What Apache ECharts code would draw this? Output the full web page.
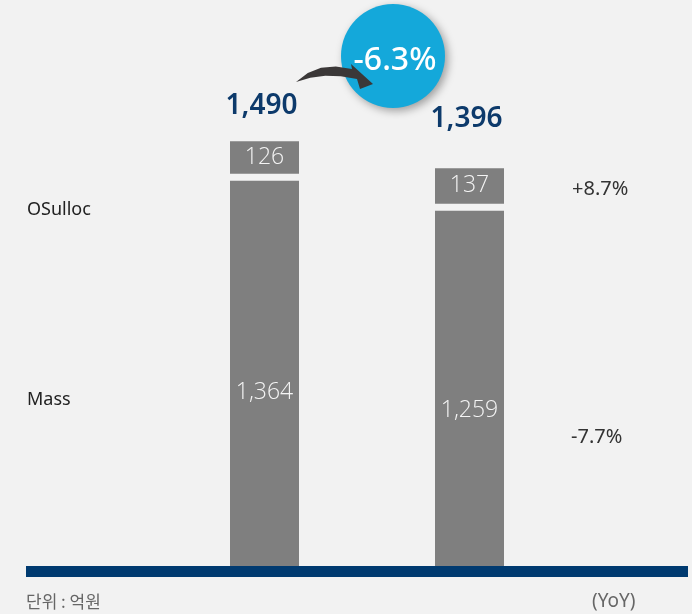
<!DOCTYPE html>
<html>
<head>
<meta charset="utf-8">
<style>
html,body{margin:0;padding:0;background:#f2f2f2;}
#c{width:692px;height:614px;}
</style>
<script src="https://cdn.jsdelivr.net/npm/echarts@6/dist/echarts.min.js"></script>
</head>
<body>
<div id="c"></div>
<script>
// ---- data ----
const categories = ['2023', '2024'];
const seriesNames = ['Mass', 'OSulloc'];
const massValues = [1364, 1259];
const osullocValues = [126, 137];
const totalValues = [1490, 1396];
const yoyLabels = ['+8.7%', '-7.7%'];   // OSulloc, Mass
const changeLabel = '-6.3%';
const unitLabel = '단위 : 억원';
const yoyTitle = '(YoY)';

// ---- layout constants ----
const BAR_W = 69;
const GAP = 3.5;
const totalOffsets = [-35, -49];
const massLabelOffsets = [19, 22];
const fmt = v => v.toLocaleString('en-US');

const chart = echarts.init(document.getElementById('c'));

function segRender(isTop) {
  return function (params, api) {
    const idx = api.value(0);
    const base = api.value(1);
    const top = api.value(2);
    const p0 = api.coord([idx, base]);
    const p1 = api.coord([idx, top]);
    let y0 = p0[1], y1 = p1[1];
    if (isTop) { y0 -= GAP; } else { y1 += GAP; }
    const x = p0[0] - BAR_W / 2;
    const val = top - base;
    const cy = isTop ? (y0 + y1) / 2 : (y0 + y1) / 2 + massLabelOffsets[params.dataIndex];
    return {
      type: 'group',
      children: [
        { type: 'rect', shape: { x: x, y: y1, width: BAR_W, height: y0 - y1 },
          style: { fill: '#7f7f7f' } },
        { type: 'text', x: p0[0], y: cy,
          style: { text: fmt(val), fill: '#f4f4f4', font: '300 23px "Open Sans", "Noto Sans", sans-serif',
                   align: 'center', verticalAlign: 'middle' } }
      ]
    };
  };
}

const massData = categories.map((c, i) => [i, 0, massValues[i]]);
const osData = categories.map((c, i) => [i, massValues[i], massValues[i] + osullocValues[i]]);
const totData = categories.map((c, i) => [i, totalValues[i]]);

chart.setOption({
  backgroundColor: '#f2f2f2',
  animation: false,
  grid: { left: 162, top: 0, width: 410, height: 566 },
  xAxis: { type: 'category', data: categories, show: false },
  yAxis: { type: 'value', min: 0, max: 1986, show: false },
  series: [
    { name: seriesNames[0], type: 'custom', renderItem: segRender(false), data: massData,
      encode: { x: 0, y: [1, 2] } },
    { name: seriesNames[1], type: 'custom', renderItem: segRender(true), data: osData,
      encode: { x: 0, y: [1, 2] } },
    { name: 'Total', type: 'custom', data: totData, encode: { x: 0, y: 1 },
      renderItem: function (params, api) {
        const p = api.coord([api.value(0), api.value(1)]);
        return { type: 'text', x: p[0] - 3, y: p[1] + totalOffsets[params.dataIndex],
          style: { text: fmt(api.value(1)), fill: '#0d3a6b', font: '600 28px "Noto Sans", sans-serif',
                   align: 'center', verticalAlign: 'middle' } };
      } }
  ],
  graphic: [
    { type: 'rect', shape: { x: 26, y: 566, width: 662, height: 11 }, style: { fill: '#003a70' } },
    { type: 'text', x: 27, y: 210, style: { text: seriesNames[1], fill: '#222', font: '18px "Noto Sans", sans-serif', verticalAlign: 'middle' } },
    { type: 'text', x: 27, y: 400, style: { text: seriesNames[0], fill: '#222', font: '18px "Noto Sans", sans-serif', verticalAlign: 'middle' } },
    { type: 'text', x: 572, y: 189, style: { text: yoyLabels[0], fill: '#333', font: '20px "Noto Sans", sans-serif', verticalAlign: 'middle' } },
    { type: 'text', x: 571, y: 437, style: { text: yoyLabels[1], fill: '#333', font: '20px "Noto Sans", sans-serif', verticalAlign: 'middle' } },
    { type: 'text', x: 26, y: 602, style: { text: unitLabel, fill: '#666', font: '17px "Noto Sans CJK KR", sans-serif', verticalAlign: 'middle' } },
    { type: 'text', x: 592, y: 602, style: { text: yoyTitle, fill: '#666', font: '19px "Noto Sans", sans-serif', verticalAlign: 'middle' } },
    { type: 'circle', shape: { cx: 393, cy: 56, r: 52 },
      style: { fill: '#14a8da', shadowBlur: 8, shadowColor: 'rgba(0,0,0,0.35)', shadowOffsetX: 3, shadowOffsetY: 3 } },
    { type: 'text', x: 395, y: 61, style: { text: changeLabel, fill: '#ffffff', font: '500 32px "Noto Sans", sans-serif', align: 'center', verticalAlign: 'middle' } },
    { type: 'polygon', shape: { points: [[296,82],[307.8,72.9],[321,67.8],[335.8,66.4],[352,69],[351,64],[373,84],[360,89],[357,79],[340.8,76.2],[325.3,75.8],[310.3,77.7]] },
      style: { fill: '#3b3838' } }
  ]
});
</script>
</body>
</html>
